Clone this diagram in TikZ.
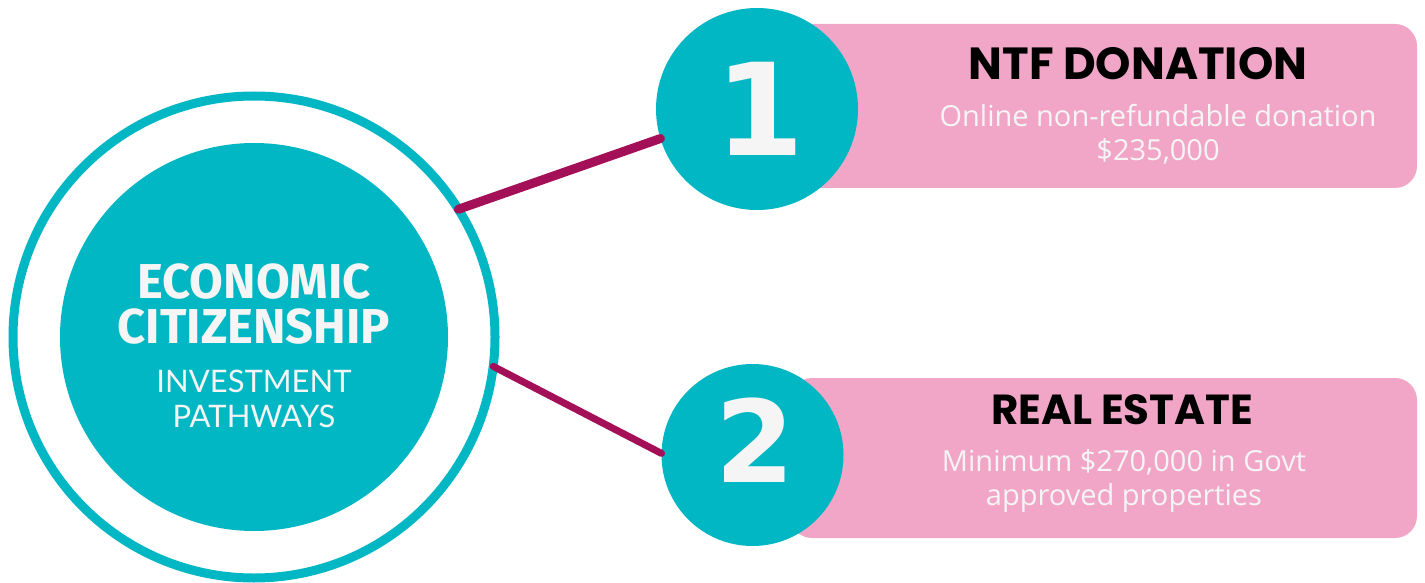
\documentclass[tikz,border=0pt]{standalone}
\usepackage{fontspec}
\setmainfont{Lato}
\newfontfamily\headfont{Poppins}
\newfontfamily\numfont{Fira Sans}
\newfontfamily\digitfont{DejaVu Sans}
\newfontfamily\descfont{Open Sans}
\definecolor{pathteal}{RGB}{2,183,196}
\definecolor{pathpink}{RGB}{241,166,200}
\definecolor{pathlink}{RGB}{163,16,88}
\definecolor{offwhite}{RGB}{245,245,245}

\begin{document}
\begin{tikzpicture}[x=1pt,y=-1pt]
	\tikzstyle{every node} = [inner sep = 0pt, outer sep = 0pt]
	\tikzstyle{link} = [pathlink, line cap = round]
	\tikzstyle{disc} = [circle, fill = pathteal, text = offwhite]
	\tikzstyle{card} = [rectangle, fill = pathpink, rounded corners = 22pt, anchor = east]
	\tikzstyle{desc} = [text = offwhite, align = center, font = \descfont\fontsize{29}{34}\selectfont]
	\useasboundingbox (0,0) rectangle (1425,583);

	% centre
	\node [circle, draw = pathteal, line width = 9pt, fill = white, minimum size = 482pt] (ring) at (254,337) {};
	\node [disc, minimum size = 388pt] (core) at (254,337) {};
	\node [text = offwhite, font = \numfont\bfseries\fontsize{49}{49}\selectfont] (title1) at (254,282) {ECONOMIC};
	\node [text = offwhite, font = \numfont\bfseries\fontsize{49}{49}\selectfont] (title2) at (254,327) {CITIZENSHIP};
	\node [text = offwhite, align = center, font = \fontsize{31}{35}\selectfont] (sub) at (254,399) {INVESTMENT\\PATHWAYS};

	% cards
	\node [card, minimum width = 627pt, minimum height = 164pt] (box1) at (1417,106) {};
	\node [card, minimum width = 627pt, minimum height = 160pt] (box2) at (1417,458) {};

	% numbers
	\node [disc, minimum size = 202pt] (num1) at (757,109) {};
	\node [disc, minimum size = 182pt] (num2) at (752.5,455) {};
	\node [text = offwhite, font = \digitfont\bfseries\fontsize{128}{128}\selectfont] (digit1) at (760,109) {1};
	\node [text = offwhite, font = \digitfont\bfseries\fontsize{114}{114}\selectfont] (digit2) at (755,440) {2};

	\draw [link, line width = 9pt] (ring.32) -- (num1.197); %centre to 1
	\draw [link, line width = 7pt] (ring.-7) -- (num2.179); %centre to 2

	% card texts
	\node [font = \headfont\bfseries\fontsize{45}{45}\selectfont] (head1) at (1138,64) {NTF DONATION};
	\node [desc] (text1) at (1158,134) {Online non-refundable donation\\\$235,000};
	\node [font = \headfont\bfseries\fontsize{42}{42}\selectfont] (head2) at (1122,410) {REAL ESTATE};
	\node [desc] (text2) at (1124,481) {Minimum \$270,000 in Govt\\approved properties};
\end{tikzpicture}
\end{document}
